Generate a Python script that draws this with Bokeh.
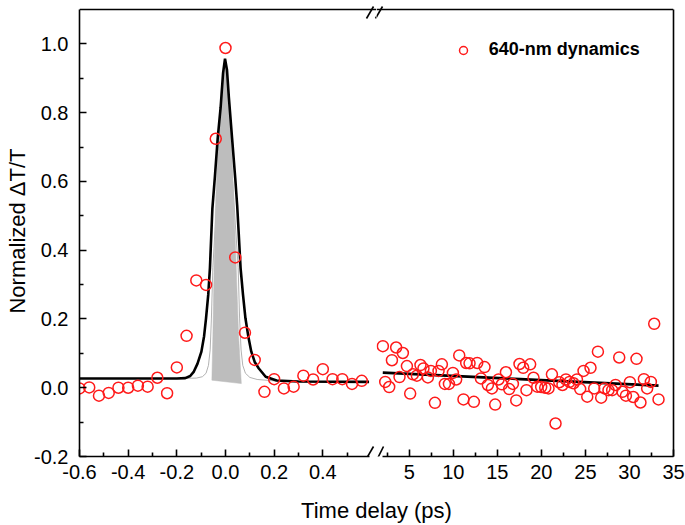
from bokeh.plotting import figure
from bokeh.models import Range1d, FixedTicker, Arrow, Legend, LegendItem, LinearAxis
from bokeh.layouts import row, column
from bokeh.embed import file_html
from bokeh.resources import INLINE
from bokeh.core.properties import value

# ---------------- data ----------------
t_left = [-0.60, -0.56, -0.52, -0.48, -0.44, -0.40, -0.36, -0.32, -0.28, -0.24,
          -0.20, -0.16, -0.12, -0.08, -0.04, 0.00, 0.04, 0.08, 0.12, 0.16,
          0.20, 0.24, 0.28, 0.32, 0.36, 0.40, 0.44, 0.48, 0.52, 0.56]
dT_left = [-0.002, 0.001, -0.023, -0.015, 0.000, 0.000, 0.006, 0.003, 0.029, -0.016,
           0.059, 0.151, 0.312, 0.299, 0.724, 0.988, 0.379, 0.160, 0.081, -0.012,
           0.025, -0.002, 0.003, 0.035, 0.024, 0.054, 0.025, 0.025, 0.011, 0.020]

t_right = [2.01, 2.28, 2.73, 3.04, 3.52, 3.90, 4.28, 4.74, 5.11, 5.42,
           5.87, 6.28, 6.62, 7.12, 7.46, 7.92, 8.33, 8.71, 9.05, 9.51,
           9.96, 10.33, 10.68, 11.16, 11.47, 11.85, 12.34, 12.72, 13.14, 13.55,
           13.93, 14.39, 14.76, 15.14, 15.52, 15.98, 16.35, 16.77, 17.15, 17.52,
           17.94, 18.31, 18.73, 19.11, 19.53, 19.98, 20.44, 20.81, 21.20, 21.61,
           22.03, 22.40, 22.79, 23.20, 23.65, 24.04, 24.41, 24.79, 25.21, 25.58,
           26.00, 26.42, 26.79, 27.17, 27.62, 28.04, 28.42, 28.84, 29.21, 29.60,
           30.05, 30.43, 30.80, 31.25, 31.64, 32.01, 32.43, 32.81, 33.30]
dT_right = [0.121, 0.017, 0.002, 0.080, 0.117, 0.031, 0.101, 0.063, -0.017, 0.039,
            0.035, 0.066, 0.056, 0.030, 0.049, -0.044, 0.049, 0.068, 0.011, 0.011,
            0.043, 0.024, 0.094, -0.034, 0.072, 0.071, -0.041, 0.072, 0.027, 0.060,
            0.008, -0.002, -0.049, 0.024, 0.010, 0.045, -0.004, 0.011, -0.037, 0.069,
            0.058, -0.007, 0.068, 0.029, 0.003, 0.002, 0.000, -0.002, 0.039, -0.104,
            0.016, 0.008, 0.024, 0.017, 0.013, 0.024, -0.004, 0.049, -0.026, 0.058,
            -0.002, 0.105, -0.029, -0.002, -0.007, -0.007, 0.008, 0.088, -0.012, -0.023,
            0.016, -0.027, 0.084, -0.043, 0.025, -0.002, 0.017, 0.186, -0.034]

fit_left_t = [-0.60, -0.30, -0.20, -0.165, -0.145, -0.13, -0.115, -0.099, -0.088, -0.080,
              -0.071, -0.064, -0.054, -0.044, -0.032, -0.020, -0.010, -0.002, 0.006, 0.014,
              0.027, 0.040, 0.048, 0.055, 0.062, 0.072, 0.082, 0.094, 0.106, 0.120,
              0.137, 0.165, 0.21, 0.30, 0.59]
fit_left_y = [0.027, 0.027, 0.027, 0.028, 0.034, 0.047, 0.070, 0.105, 0.150, 0.202,
              0.270, 0.348, 0.520, 0.610, 0.726, 0.815, 0.915, 0.957, 0.925, 0.843,
              0.726, 0.610, 0.530, 0.440, 0.348, 0.270, 0.202, 0.148, 0.105, 0.075,
              0.056, 0.032, 0.021, 0.018, 0.017]

fit_right_t = [2.0, 17.6, 33.3]
fit_right_y = [0.044, 0.025, 0.006]

pulse_t = [-0.056, -0.052, -0.047, -0.040, -0.030, -0.017, -0.003, 0.012, 0.024, 0.034,
           0.044, 0.054, 0.065]
pulse_y = [0.022, 0.15, 0.35, 0.55, 0.72, 0.87, 0.95, 0.87, 0.72, 0.55,
           0.35, 0.15, 0.012]

xc_t = [-0.20, -0.12, -0.095, -0.080, -0.070, -0.063, -0.058, -0.052, -0.003,
        0.052, 0.058, 0.064, 0.071, 0.082, 0.100, 0.130, 0.200, 0.300]
xc_y = [0.027, 0.028, 0.032, 0.042, 0.065, 0.110, 0.200, 0.350, 0.950,
        0.350, 0.200, 0.110, 0.065, 0.042, 0.030, 0.024, 0.020, 0.018]

y_ticks = [-0.2, 0.0, 0.2, 0.4, 0.6, 0.8, 1.0]
y_tick_labels = ["-0.2", "0.0", "0.2", "0.4", "0.6", "0.8", "1.0"]
y_minor = [-0.1, 0.1, 0.3, 0.5, 0.7, 0.9]
xl_ticks = [-0.6, -0.4, -0.2, 0.0, 0.2, 0.4]
xl_tick_labels = ["-0.6", "-0.4", "-0.2", "0.0", "0.2", "0.4"]
xl_minor = [-0.5, -0.3, -0.1, 0.1, 0.3, 0.5]
xr_ticks = [5, 10, 15, 20, 25, 30, 35]
xr_tick_labels = ["5", "10", "15", "20", "25", "30", "35"]
xr_minor = [2.5, 7.5, 12.5, 17.5, 22.5, 27.5, 32.5]

legend_label = "640-nm dynamics"
x_title = "Time delay (ps)"
y_title = "Normalized \u0394T/T"

# ---------------- layout constants ----------------
Y0, Y1 = -0.2, 1.1            # axis extent
XL0 = -0.6                    # left axis start
XR1 = 35.0                    # right axis end
FONT = "Liberation Sans"
RED = "#ff1a1a"
LW = 1.6

SX1 = 243.33                  # px per ps, left part
SX2 = 8.81                    # px per ps, right part
SY = 343.85                   # px per unit of dT/T

B_LEFT = 79
F1 = 297                      # left frame width (frames touch at the break)
F2 = 297                      # right frame width
B_RIGHT = 12
PAD_TOP = 4                   # frame extension above the top line (break marks)
B_TOP, B_BOT = 5, 33
AXIS_H = (Y1 - Y0) * SY
H = int(round(B_TOP + PAD_TOP + AXIS_H + B_BOT))
H_TITLE = 35

xl_hi = XL0 + F1 / SX1
xr_lo = XR1 - F2 / SX2
y_hi = Y1 + PAD_TOP / SY
yr = Range1d(Y0, y_hi)


def style_axis(ax, ticks, minor, labels):
    ax.ticker = FixedTicker(ticks=ticks, minor_ticks=minor)
    ax.major_label_overrides = {t: l for t, l in zip(ticks, labels)}
    ax.axis_line_width = LW
    ax.axis_line_color = "black"
    ax.major_tick_line_color = "black"
    ax.minor_tick_line_color = "black"
    ax.major_tick_in = 7
    ax.major_tick_out = 0
    ax.minor_tick_in = 4
    ax.minor_tick_out = 0
    ax.major_tick_line_width = LW
    ax.minor_tick_line_width = LW
    ax.major_label_text_font = FONT
    ax.major_label_text_font_size = "20px"
    ax.major_label_text_color = "black"


def border_axis(bounds, loc=None):
    ax = LinearAxis(ticker=FixedTicker(ticks=[]), major_label_text_font_size="0px",
                    major_tick_in=0, major_tick_out=0, minor_tick_in=0, minor_tick_out=0,
                    major_label_standoff=0, axis_line_width=LW, axis_line_color="black",
                    bounds=bounds)
    if loc is not None:
        ax.fixed_location = loc
    return ax


def seg(p, x0, y0, x1, y1):
    p.add_layout(Arrow(end=None, x_start=x0, y_start=y0, x_end=x1, y_end=y1,
                       line_color="black", line_width=LW))


# ---------------- left panel ----------------
p1 = figure(width=B_LEFT + F1, height=H, x_range=Range1d(XL0, xl_hi), y_range=yr,
            output_backend="svg", toolbar_location=None,
            x_axis_location=None, y_axis_location="left",
            min_border_left=B_LEFT, min_border_right=0,
            min_border_top=B_TOP, min_border_bottom=B_BOT,
            outline_line_color=None, background_fill_color="white",
            border_fill_color="white")
p1.grid.visible = False
yax = p1.yaxis[0]
style_axis(yax, y_ticks, y_minor, y_tick_labels)
yax.bounds = (Y0, Y1)
yax.major_label_standoff = 11
yax.axis_label = y_title
yax.axis_label_text_font = FONT
yax.axis_label_text_font_size = "22px"
yax.axis_label_text_font_style = "normal"
yax.axis_label_text_color = "black"
yax.axis_label_standoff = 1

xax1 = LinearAxis(bounds=(XL0, 0.59))
style_axis(xax1, xl_ticks, xl_minor, xl_tick_labels)
xax1.major_label_standoff = 8
p1.add_layout(xax1, "below")
p1.add_layout(border_axis((XL0, xl_hi), Y1), "above")

p1.line(xc_t, xc_y, line_color="#a9a9a9", line_width=0.9)
p1.patch(pulse_t, pulse_y, fill_color="#bdbdbd", line_color="#bdbdbd", line_width=0.5)
p1.line(fit_left_t, fit_left_y, line_color="black", line_width=2.6)
p1.scatter(t_left, dT_left, marker="circle", size=11, fill_color=None,
           line_color=RED, line_width=1.5)


# break marks, placed by screen-pixel offsets from the break position
def px1(dx):
    return XL0 + (F1 + dx) / SX1


def px2(dx):
    return xr_lo + dx / SX2


def py_top(dy):
    return Y1 - dy / SY


def py_bot(dy):
    return Y0 - dy / SY


seg(p1, px1(-10), py_top(9), px1(-3), py_top(-3))
seg(p1, px1(-1), py_top(9), px1(6), py_top(-3))
seg(p1, px1(-10), py_bot(2), px1(-3), py_bot(-10))

# ---------------- right panel ----------------
p2 = figure(width=F2 + B_RIGHT, height=H, x_range=Range1d(xr_lo, XR1), y_range=yr,
            output_backend="svg", toolbar_location=None,
            x_axis_location=None, y_axis_location=None,
            min_border_left=0, min_border_right=B_RIGHT,
            min_border_top=B_TOP, min_border_bottom=B_BOT,
            outline_line_color=None, background_fill_color="white",
            border_fill_color="white")
p2.grid.visible = False
xax2 = LinearAxis(bounds=(2.0, XR1))
style_axis(xax2, xr_ticks, xr_minor, xr_tick_labels)
xax2.major_label_standoff = 8
p2.add_layout(xax2, "below")
p2.add_layout(border_axis((xr_lo, XR1), Y1), "above")
p2.add_layout(border_axis((Y0, Y1)), "right")

p2.line(fit_right_t, fit_right_y, line_color="black", line_width=2.6)
r2 = p2.scatter(t_right, dT_right, marker="circle", size=11, fill_color=None,
                line_color=RED, line_width=1.5)

seg(p2, px2(-1), py_top(9), px2(6), py_top(-3))
seg(p2, px2(1), py_bot(2), px2(7), py_bot(-10))

legend = Legend(items=[LegendItem(label=legend_label, renderers=[r2])],
                location=(76.7, 396), padding=0, margin=0, spacing=0,
                glyph_width=20, glyph_height=20, label_standoff=16,
                border_line_alpha=0, background_fill_alpha=0,
                label_text_font=FONT, label_text_font_style="bold",
                label_text_font_size="18px", label_text_color="black")
p2.add_layout(legend)

# ---------------- x title strip ----------------
WT = B_LEFT + F1 + F2 + B_RIGHT
p3 = figure(width=WT, height=H_TITLE, x_range=Range1d(0, WT), y_range=Range1d(0, H_TITLE),
            output_backend="svg", toolbar_location=None,
            x_axis_location=None, y_axis_location=None,
            min_border=0, outline_line_color=None, background_fill_color="white",
            border_fill_color="white")
p3.grid.visible = False
p3.text(x=[B_LEFT + (F1 + F2) / 2], y=[2], text=[x_title],
        text_align="center", text_baseline="bottom", text_font=value(FONT),
        text_font_size="22px", text_color="black")

layout = column(row(p1, p2), p3)

open("out.html", "w").write(file_html(layout, INLINE))
